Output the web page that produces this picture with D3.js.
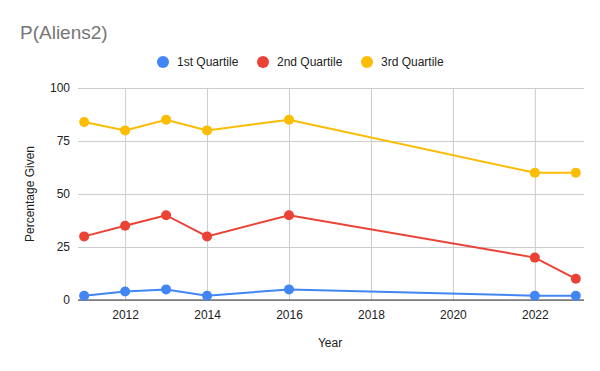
<!DOCTYPE html>
<html>
<head>
<meta charset="utf-8">
<script src="https://cdn.jsdelivr.net/npm/d3@7"></script>
<style>
  body { margin: 0; background: #fff; }
  text { font-family: Arial, "Liberation Sans", sans-serif; }
</style>
</head>
<body>
<svg id="chart" width="600" height="371"></svg>
<script>
// data
var years = [2011, 2012, 2013, 2014, 2016, 2022, 2023];
var q1 = [2, 4, 5, 2, 5, 2, 2];
var q2 = [30, 35, 40, 30, 40, 20, 10];
var q3 = [84, 80, 85, 80, 85, 60, 60];
var seriesNames = ["1st Quartile", "2nd Quartile", "3rd Quartile"];
var colors = ["#4285F4", "#EA4335", "#FBBC04"];
var xTicks = [2012, 2014, 2016, 2018, 2020, 2022];
var yTicks = [0, 25, 50, 75, 100];

var font = "Arial, 'Liberation Sans', sans-serif";
var svg = d3.select("#chart");
svg.append("rect").attr("width", 600).attr("height", 371).attr("fill", "#fff");

var x = d3.scaleLinear().domain([2010.85, 2023.2]).range([78, 584]);
var y = d3.scaleLinear().domain([0, 100]).range([300, 88]);

// title
svg.append("text").attr("x", 20).attr("y", 39)
    .attr("font-size", 19).attr("fill", "#757575").text("P(Aliens2)");

// legend
var legendX = [163, 263, 367];
seriesNames.forEach(function (name, i) {
    svg.append("circle").attr("cx", legendX[i]).attr("cy", 62).attr("r", 6).attr("fill", colors[i]);
    svg.append("text").attr("x", legendX[i] + 14).attr("y", 66)
        .attr("font-size", 12).attr("fill", "#222").text(name);
});

// horizontal grid
var yAxis = d3.axisLeft(y).tickValues(yTicks).tickSize(-(584 - 78)).tickPadding(8);
var gy = svg.append("g").attr("transform", "translate(78,0)").call(yAxis);
gy.select(".domain").remove();
gy.selectAll(".tick line").attr("stroke", "#ccc");
gy.selectAll(".tick text").attr("font-size", 12).attr("fill", "#222").style("font-family", font);

// vertical grid + x labels
var xAxis = d3.axisBottom(x).tickValues(xTicks).tickFormat(d3.format("d")).tickSize(-(300 - 88)).tickPadding(10);
var gx = svg.append("g").attr("transform", "translate(0,300)").call(xAxis);
gx.select(".domain").remove();
gx.selectAll(".tick line").attr("stroke", "#ccc");
gx.selectAll(".tick text").attr("font-size", 12).attr("fill", "#222").style("font-family", font);

// baseline
svg.append("line").attr("x1", 78).attr("x2", 584).attr("y1", y(0)).attr("y2", y(0))
    .attr("stroke", "#333").attr("stroke-width", 1);

// axis titles
svg.append("text").attr("x", 330).attr("y", 347).attr("text-anchor", "middle")
    .attr("font-size", 12).attr("fill", "#222").text("Year");
svg.append("text").attr("transform", "translate(34,194) rotate(-90)").attr("text-anchor", "middle")
    .attr("font-size", 12).attr("fill", "#222").text("Percentage Given");

// series
var line = d3.line().x(function (d) { return x(d[0]); }).y(function (d) { return y(d[1]); });
[q1, q2, q3].forEach(function (vals, i) {
    var pts = years.map(function (yr, j) { return [yr, vals[j]]; });
    svg.append("path").datum(pts).attr("d", line).attr("fill", "none")
        .attr("stroke", colors[i]).attr("stroke-width", 2);
    svg.selectAll(".pt" + i).data(pts).enter().append("circle")
        .attr("cx", function (d) { return x(d[0]); })
        .attr("cy", function (d) { return y(d[1]); })
        .attr("r", 5).attr("fill", colors[i]);
});
</script>
</body>
</html>
